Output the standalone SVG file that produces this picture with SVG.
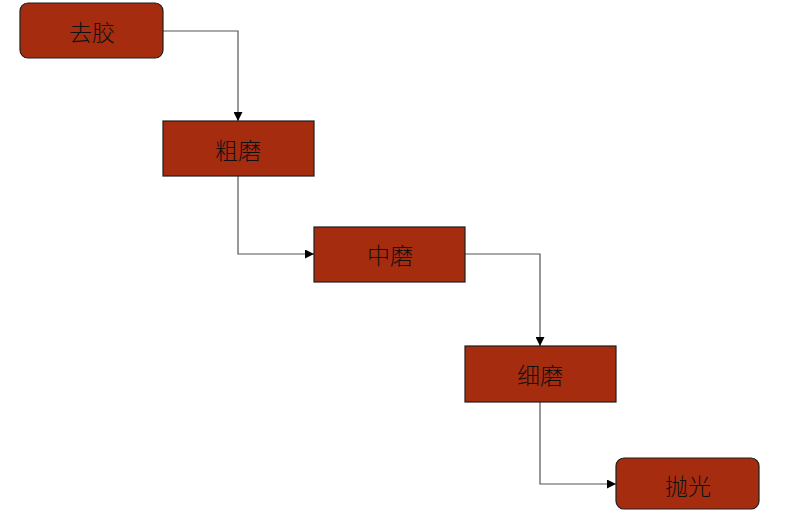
<svg xmlns="http://www.w3.org/2000/svg" width="800" height="528" viewBox="0 0 800 528">
<style>
.box{fill:#a62c10;stroke:#1e1e1e;stroke-width:1.2}
.lbl{font-family:"Noto Sans CJK SC","Noto Sans",sans-serif;font-size:23px;font-weight:300;fill:#111;text-anchor:middle;dominant-baseline:central}
.conn{fill:none;stroke:#555;stroke-width:1.2}
</style>
<defs>
<marker id="arr" viewBox="0 0 10 10" refX="10" refY="5" markerWidth="9" markerHeight="9" markerUnits="userSpaceOnUse" orient="auto">
<path d="M0,0 L10,5 L0,10 z" fill="#000"/>
</marker>
</defs>
<rect width="800" height="528" fill="#fff"/>
<g id="connectors">
<path class="conn" d="M163,31 H238 V121" marker-end="url(#arr)"/>
<path class="conn" d="M238,176 V254 H314" marker-end="url(#arr)"/>
<path class="conn" d="M465,254 H540 V346" marker-end="url(#arr)"/>
<path class="conn" d="M540,402 V484 H616" marker-end="url(#arr)"/>
</g>
<g id="n1"><rect class="box" x="20" y="3" width="143" height="55" rx="8"/><text class="lbl" x="92" y="31">去胶</text></g>
<g id="n2"><rect class="box" x="163" y="121" width="151" height="55"/><text class="lbl" x="238" y="149">粗磨</text></g>
<g id="n3"><rect class="box" x="314" y="227" width="151" height="55"/><text class="lbl" x="390" y="254">中磨</text></g>
<g id="n4"><rect class="box" x="465" y="346" width="151" height="56"/><text class="lbl" x="540" y="374">细磨</text></g>
<g id="n5"><rect class="box" x="616" y="458" width="143" height="51" rx="8"/><text class="lbl" x="688" y="485">抛光</text></g>
</svg>
